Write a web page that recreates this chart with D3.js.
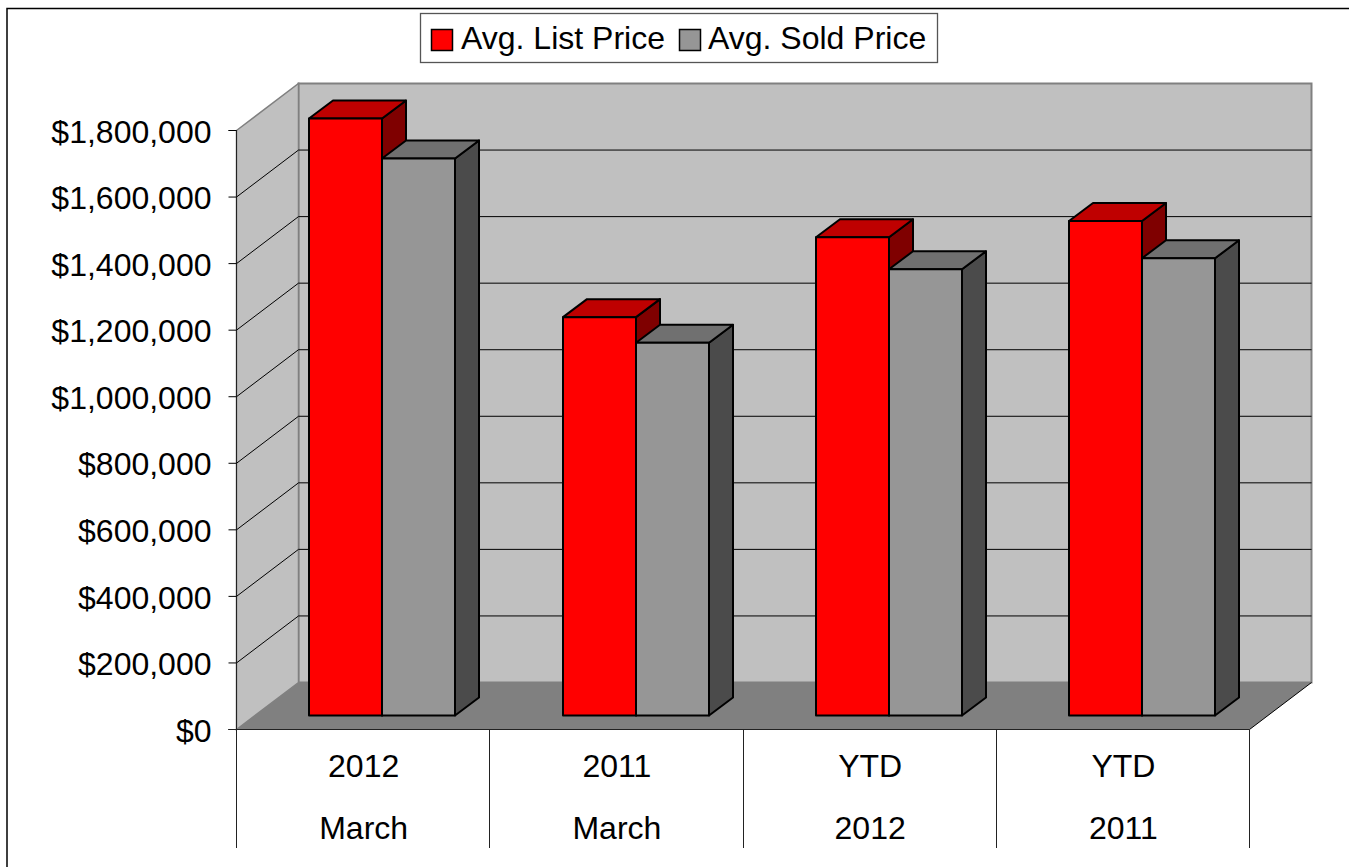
<!DOCTYPE html>
<html>
<head>
<meta charset="utf-8">
<script src="https://cdn.jsdelivr.net/npm/d3@7"></script>
<style>
  html, body { margin: 0; padding: 0; background: #fff; }
  svg { display: block; }
  text { font-family: "Liberation Sans", Arial, sans-serif; fill: #000; }
</style>
</head>
<body>
<div id="container"></div>
<script>
// values
let upperLabels = ["2012", "2011", "YTD", "YTD"];
let lowerLabels = ["March", "March", "2012", "2011"];
let seriesNames = ["Avg. List Price", "Avg. Sold Price"];
let listPrice = [1794000, 1197000, 1437000, 1486000];
let soldPrice = [1674000, 1120000, 1341000, 1374000];
let yTicks = [0, 200000, 400000, 600000, 800000, 1000000, 1200000, 1400000, 1600000, 1800000];

let w = 1349;
let h = 867;

// plot box, front plane
let left = 236.5;
let right = 1249.5;
let bottom = 729.5;
let top18 = 130.5;
// depth of the box and of the bars
let wallDx = 62;
let wallDy = -47;
let barShiftY = -14;
let barDx = 24;
let barDy = -18;
let groupOffset = 72.9;
let barsWidth = 146;
let fontSize = 32;

let colors = [
  { front: "#ff0000", top: "#bf0000", side: "#7f0000" },
  { front: "#969696", top: "#707070", side: "#4b4b4b" }
];

let viz = d3.select("#container")
  .append("svg")
    .attr("width", w)
    .attr("height", h)
    .style("background-color", "white")
;

let yScale = d3.scaleLinear().domain([0, 1800000]).range([bottom, top18]);
let xScale = d3.scaleBand().domain(d3.range(upperLabels.length)).range([left, right]);
let seriesScale = d3.scaleBand().domain([0, 1]).range([0, barsWidth]);

// outer border, only top and left show
viz.append("path")
    .attr("d", "M7," + h + " V8.5 H" + w)
    .attr("fill", "none")
    .attr("stroke", "black")
    .attr("stroke-width", 1.5)
;

function pts(a) {
  return a.map(function(p){ return p[0] + "," + p[1]; }).join(" ");
}

let topY = yScale(1800000);

// walls and floor
viz.append("polygon")
    .attr("points", pts([[left+wallDx, topY+wallDy], [right+wallDx, topY+wallDy], [right+wallDx, bottom+wallDy], [left+wallDx, bottom+wallDy]]))
    .attr("fill", "#c0c0c0")
    .attr("stroke", "#808080")
    .attr("stroke-width", 2)
;
viz.append("polygon")
    .attr("points", pts([[left, topY], [left+wallDx, topY+wallDy], [left+wallDx, bottom+wallDy], [left, bottom]]))
    .attr("fill", "#c0c0c0")
    .attr("stroke", "#808080")
    .attr("stroke-width", 1.5)
;
viz.append("polygon")
    .attr("points", pts([[left, bottom], [left+wallDx, bottom+wallDy], [right+wallDx, bottom+wallDy], [right, bottom]]))
    .attr("fill", "#808080")
;
viz.append("line")
    .attr("x1", right).attr("y1", bottom)
    .attr("x2", right+wallDx).attr("y2", bottom+wallDy)
    .attr("stroke", "black")
;

// gridlines on the back wall and the left wall
let grid = viz.append("g").attr("class", "grid");
grid.selectAll(".back")
  .data(yTicks.slice(1, -1))
  .enter()
  .append("line")
    .attr("class", "back")
    .attr("x1", left+wallDx)
    .attr("x2", right+wallDx)
    .attr("y1", function(d){ return yScale(d)+wallDy; })
    .attr("y2", function(d){ return yScale(d)+wallDy; })
    .attr("stroke", "black")
;
grid.selectAll(".side")
  .data(yTicks.slice(1, -1))
  .enter()
  .append("line")
    .attr("class", "side")
    .attr("x1", left)
    .attr("x2", left+wallDx)
    .attr("y1", function(d){ return yScale(d); })
    .attr("y2", function(d){ return yScale(d)+wallDy; })
    .attr("stroke", "black")
;

// y axis
let yAxisGroup = viz.append("g").attr("class", "yaxis").attr("transform", "translate(" + left + ",0)");
yAxisGroup.call(
  d3.axisLeft(yScale)
    .tickValues(yTicks)
    .tickSize(8)
    .tickPadding(17)
    .offset(0)
    .tickFormat(function(d){ return "$" + d3.format(",")(d); })
);
yAxisGroup.select(".domain").attr("stroke", "#222");
yAxisGroup.selectAll("line").attr("stroke", "black");
yAxisGroup.selectAll("text")
    .style("font-size", fontSize + "px")
    .style("font-family", '"Liberation Sans", Arial, sans-serif')
    .attr("fill", "black")
    .attr("dy", "0.38em")
;

// front edge and category dividers
viz.append("line")
    .attr("x1", left-8).attr("x2", right)
    .attr("y1", bottom).attr("y2", bottom)
    .attr("stroke", "#222")
;
viz.selectAll(".divider")
  .data(d3.range(upperLabels.length + 1))
  .enter()
  .append("line")
    .attr("class", "divider")
    .attr("x1", function(d){ return Math.floor(left + d*xScale.bandwidth())+0.5; })
    .attr("x2", function(d){ return Math.floor(left + d*xScale.bandwidth())+0.5; })
    .attr("y1", bottom)
    .attr("y2", 848)
    .attr("stroke", "#222")
;

// category labels, two rows
function labelRow(labels, y) {
  viz.selectAll(".row" + y)
    .data(labels)
    .enter()
    .append("text")
      .attr("class", "row" + y)
      .text(function(d){ return d; })
      .attr("x", function(d, i){ return xScale(i) + xScale.bandwidth()/2 + 0.5; })
      .attr("y", y)
      .attr("text-anchor", "middle")
      .attr("font-size", fontSize)
  ;
}
labelRow(upperLabels, 777);
labelRow(lowerLabels, 839);

// bars, drawn left to right so each one covers the side of the one before
let allSeries = [listPrice, soldPrice];
let barData = [];
upperLabels.forEach(function(c, i){
  allSeries.forEach(function(values, s){
    barData.push({ cat: i, series: s, value: values[i] });
  });
});

let bars = viz.selectAll(".bar")
  .data(barData)
  .enter()
  .append("g")
    .attr("class", "bar")
    .attr("stroke", "black")
    .attr("stroke-width", 2)
    .attr("stroke-linejoin", "round")
;

function barBox(d) {
  let x0 = Math.round(xScale(d.cat) + groupOffset) + seriesScale(d.series);
  let x1 = x0 + seriesScale.bandwidth();
  let yTop = yScale(d.value) + barShiftY;
  let yBase = bottom + barShiftY;
  return { x0: x0, x1: x1, yTop: yTop, yBase: yBase };
}

bars.append("polygon")
    .attr("points", function(d){
      let b = barBox(d);
      return pts([[b.x1, b.yTop], [b.x1+barDx, b.yTop+barDy], [b.x1+barDx, b.yBase+barDy], [b.x1, b.yBase]]);
    })
    .attr("fill", function(d){ return colors[d.series].side; })
;
bars.append("polygon")
    .attr("points", function(d){
      let b = barBox(d);
      return pts([[b.x0, b.yTop], [b.x0+barDx, b.yTop+barDy], [b.x1+barDx, b.yTop+barDy], [b.x1, b.yTop]]);
    })
    .attr("fill", function(d){ return colors[d.series].top; })
;
bars.append("rect")
    .attr("x", function(d){ return barBox(d).x0; })
    .attr("y", function(d){ return barBox(d).yTop; })
    .attr("width", seriesScale.bandwidth())
    .attr("height", function(d){ let b = barBox(d); return b.yBase - b.yTop; })
    .attr("fill", function(d){ return colors[d.series].front; })
;

// legend
let caption = viz.append("g").attr("class", "caption");
caption.append("rect")
    .attr("x", 420.5).attr("y", 13.5)
    .attr("width", 517).attr("height", 49)
    .attr("fill", "white")
    .attr("stroke", "#555")
    .attr("stroke-width", 1.3)
;
let legendSwatchX = [431.5, 679.5];
let legendTextX = [461, 708];
seriesNames.forEach(function(name, i){
  caption.append("rect")
      .attr("x", legendSwatchX[i]).attr("y", 29.5)
      .attr("width", 21).attr("height", 21)
      .attr("fill", colors[i].front)
      .attr("stroke", "black")
      .attr("stroke-width", 1.5)
  ;
  caption.append("text")
      .text(name)
      .attr("x", legendTextX[i])
      .attr("y", 49)
      .attr("font-size", fontSize)
  ;
});
</script>
</body>
</html>
